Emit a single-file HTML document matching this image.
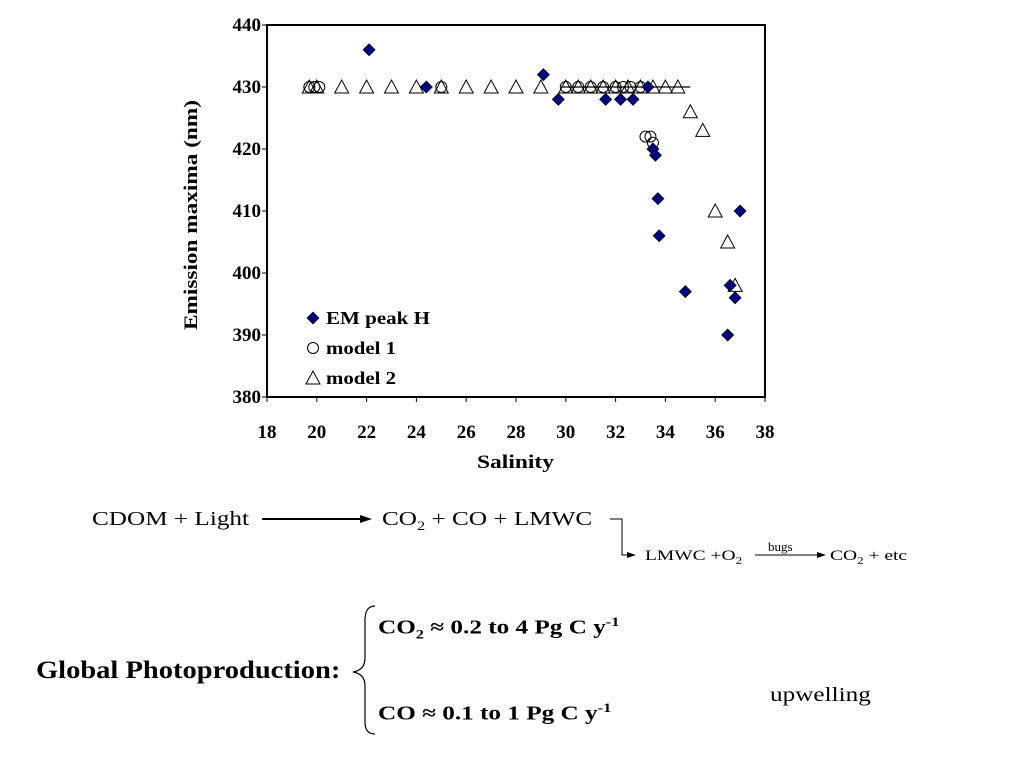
<!DOCTYPE html>
<html><head><meta charset="utf-8"><style>
body{margin:0;background:#fff;font-family:"Liberation Serif",serif;}
#wrap{position:relative;width:1024px;height:768px;overflow:hidden;}
.t{position:absolute;white-space:nowrap;color:#000;transform-origin:0 0;transform:scaleX(1.26);}
</style></head><body><div id="wrap">
<svg id="chart" width="1024" height="480" style="position:absolute;left:0;top:0"></svg>
<div class="t" style="left:92px;top:508px;font-size:20px">CDOM + Light</div>
<svg style="position:absolute;left:0;top:500px" width="1024" height="80">
<line x1="262" y1="19" x2="362" y2="19" stroke="#000" stroke-width="2"/><polygon points="372,19 360,15 360,23" fill="#000"/>
<polyline points="610,19 622,19 622,55 628,55" fill="none" stroke="#000" stroke-width="1"/><polygon points="636,55 627,52 627,58" fill="#000"/>
<line x1="755" y1="55" x2="818" y2="55" stroke="#000" stroke-width="1"/><polygon points="826,55 817,52 817,58" fill="#000"/>
</svg>
<div class="t" style="left:382px;top:508px;font-size:20px">CO<sub style="font-size:13px">2</sub> + CO + LMWC</div>
<div class="t" style="left:645px;top:548px;font-size:15px;transform:scaleX(1.3)">LMWC +O<sub style="font-size:10px">2</sub></div>
<div class="t" style="left:768px;top:539px;font-size:13px;transform:none">bugs</div>
<div class="t" style="left:830px;top:548px;font-size:15px;transform:scaleX(1.3)">CO<sub style="font-size:10px">2</sub> + etc</div>
<div class="t" style="left:36px;top:657px;font-size:25px;font-weight:bold;transform:scaleX(1.14)">Global Photoproduction:</div>
<svg style="position:absolute;left:345px;top:600px" width="40" height="140"><path d="M30 6 Q20 6 20 20 L20 58 Q20 70 8 72 Q20 74 20 86 L20 122 Q20 134 30 134" fill="none" stroke="#000" stroke-width="1.2"/></svg>
<div class="t" style="left:378px;top:614px;font-size:20px;font-weight:bold">CO<sub style="font-size:13px">2</sub> ≈ 0.2 to 4 Pg C y<sup style="font-size:13px">-1</sup></div>
<div class="t" style="left:378px;top:700px;font-size:20px;font-weight:bold">CO ≈ 0.1 to 1 Pg C y<sup style="font-size:13px">-1</sup></div>
<div class="t" style="left:770px;top:684px;font-size:20px">upwelling</div>
</div>
<script>
const xTicks=[18,20,22,24,26,28,30,32,34,36,38];
const yTicks=[380,390,400,410,420,430,440];
const emX=[22.1,24.4,29.1,29.7,31.6,32.2,32.7,33.3,33.5,33.6,33.7,33.75,34.8,36.6,36.8,36.5,37.0];
const emY=[436,430,432,428,428,428,428,430,420,419,412,406,397,398,396,390,410];
const m1X=[19.7,19.9,20.1,25,30,30.5,31,31.5,32,32.3,32.6,33,33.2,33.4,33.5];
const m1Y=[430,430,430,430,430,430,430,430,430,430,430,430,422,422,421];
const m2X=[19.7,20,21,22,23,24,25,26,27,28,29,30,30.5,31,31.5,32,32.5,33,33.5,34,34.5,35,35.5,36,36.5,36.8];
const m2Y=[430,430,430,430,430,430,430,430,430,430,430,430,430,430,430,430,430,430,430,430,430,426,423,410,405,398];
const L=267,R=765,T=25,B=397;
const sx=v=>L+(v-18)/20*(R-L), sy=v=>B-(v-380)/60*(B-T);
const svg=document.getElementById('chart');const NS='http://www.w3.org/2000/svg';
function mk(tag,at,parent){const e=document.createElementNS(NS,tag);for(const k in at)e.setAttribute(k,at[k]);(parent||svg).appendChild(e);return e;}
let e=mk('rect',{x:L,y:T,width:R-L,height:B-T,fill:'none',stroke:'#000','stroke-width':2});


xTicks.forEach(v=>{mk('line',{x1:sx(v),x2:sx(v),y1:B,y2:B+5,stroke:'#000'});
let t=mk('text',{x:sx(v),y:438,'text-anchor':'middle','font-size':19,'font-weight':'bold','font-family':'Liberation Serif'});t.textContent=v;

});
yTicks.forEach(v=>{mk('line',{x1:L-5,x2:L,y1:sy(v),y2:sy(v),stroke:'#000'});
let t=mk('text',{x:L-6,y:sy(v)+6,'text-anchor':'end','font-size':19,'font-weight':'bold','font-family':'Liberation Serif'});t.textContent=v;

});
let xt=mk('text',{x:477,y:468,'font-size':19,'font-weight':'bold','font-family':'Liberation Serif',textLength:77,lengthAdjust:'spacingAndGlyphs'});xt.textContent='Salinity';


let yt=mk('text',{x:-115,y:0,'font-size':19,'font-weight':'bold','font-family':'Liberation Serif',textLength:230,lengthAdjust:'spacingAndGlyphs',transform:'translate(197,215) rotate(-90)'});yt.textContent='Emission maxima (nm)';


mk('line',{x1:sx(29.8),x2:sx(35),y1:sy(430),y2:sy(430),stroke:'#000','stroke-width':1.2});
function tri(x,y){return mk('polygon',{points:`${x},${y-7} ${x-7},${y+6} ${x+7},${y+6}`,fill:'none',stroke:'#000','stroke-width':1});}
function circ(x,y){return mk('circle',{cx:x,cy:y,r:5.5,fill:'#fff','fill-opacity':0,stroke:'#000','stroke-width':1});}
function dia(x,y){return mk('polygon',{points:`${x},${y-6} ${x+6},${y} ${x},${y+6} ${x-6},${y}`,fill:'#000080',stroke:'#000','stroke-width':0.7});}
m2X.forEach((v,i)=>{let p=tri(sx(v),sy(m2Y[i]));

});
m1X.forEach((v,i)=>{let p=circ(sx(v),sy(m1Y[i]));

});
emX.forEach((v,i)=>{let p=dia(sx(v),sy(emY[i]));

});
const leg=[['EM peak H',dia,104],['model 1',circ,70],['model 2',tri,70]];
leg.forEach((l,i)=>{const y=318+i*30;l[1](313,y);
let t=mk('text',{x:326,y:y+6,'font-size':18,'font-weight':'bold','font-family':'Liberation Serif',textLength:l[2],lengthAdjust:'spacingAndGlyphs'});t.textContent=l[0];

});
</script></body></html>
